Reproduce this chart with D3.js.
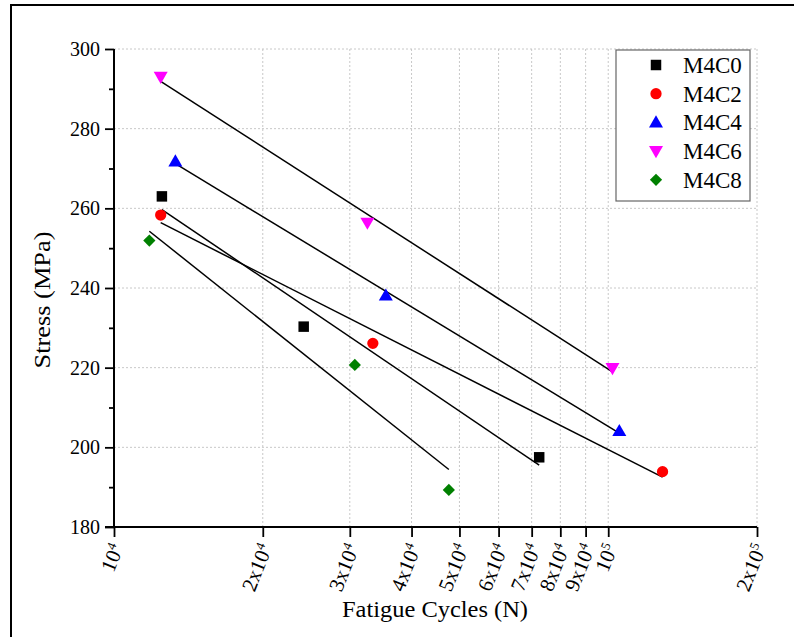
<!DOCTYPE html>
<html>
<head>
<meta charset="utf-8">
<script src="https://cdn.jsdelivr.net/npm/d3@7"></script>
<style>
  html, body { margin: 0; padding: 0; background: #fff; }
  svg { display: block; }
  svg text { font-family: "Liberation Serif", "DejaVu Serif", serif !important; }
</style>
</head>
<body>
<svg id="chart" width="794" height="637"></svg>
<script>
// ---- data ----
const seriesNames = ["M4C0", "M4C2", "M4C4", "M4C6", "M4C8"];
const cyclesM4C0 = [12500, 24200, 72500];
const stressM4C0 = [263.0, 230.3, 197.5];
const cyclesM4C2 = [12430, 33400, 128800];
const stressM4C2 = [258.3, 226.1, 193.9];
const cyclesM4C4 = [13310, 35480, 105300];
const stressM4C4 = [271.8, 238.1, 204.1];
const cyclesM4C6 = [12430, 32560, 102000];
const stressM4C6 = [293.0, 256.4, 219.9];
const cyclesM4C8 = [11790, 30710, 47590];
const stressM4C8 = [251.9, 220.7, 189.3];
const seriesColors = ["#000000", "#ff0000", "#0000ff", "#ff00ff", "#008000"];
const seriesSymbols = ["square", "circle", "triangleUp", "triangleDown", "diamond"];
const xTickValues = [1e4, 2e4, 3e4, 4e4, 5e4, 6e4, 7e4, 8e4, 9e4, 1e5, 2e5];
const yTickValues = [180, 200, 220, 240, 260, 280, 300];
const yMinorTicks = [190, 210, 230, 250, 270, 290];

const cyclesAll = [cyclesM4C0, cyclesM4C2, cyclesM4C4, cyclesM4C6, cyclesM4C8];
const stressAll = [stressM4C0, stressM4C2, stressM4C4, stressM4C6, stressM4C8];

const FONT = "Liberation Serif, DejaVu Serif, serif";
const svg = d3.select("#chart");
const L = 114, R = 757, T = 49, B = 527;

const x = d3.scaleLog().domain([1e4, 2e5]).range([L, R]);
const y = d3.scaleLinear().domain([180, 300]).range([B, T]);

// outer frame
svg.append("rect").attr("x", 11).attr("y", 5).attr("width", 800).attr("height", 700)
  .attr("fill", "none").attr("stroke", "#000").attr("stroke-width", 2);

// grid
const grid = svg.append("g");
grid.selectAll("line.vg").data(xTickValues.slice(1)).join("line")
  .attr("x1", d => x(d)).attr("x2", d => x(d)).attr("y1", T).attr("y2", B)
  .attr("stroke", "#c8c8c8").attr("stroke-width", 1).attr("stroke-dasharray", "2,2");
grid.selectAll("line.hg").data(yTickValues.slice(1)).join("line")
  .attr("x1", L).attr("x2", R).attr("y1", d => y(d)).attr("y2", d => y(d))
  .attr("stroke", "#c8c8c8").attr("stroke-width", 1).attr("stroke-dasharray", "2,2");

// y axis
const yAxis = svg.append("g").attr("transform", `translate(${L},0)`)
  .call(d3.axisLeft(y).tickValues(yTickValues).tickSize(9).tickPadding(5).tickFormat(d3.format("d")));
yAxis.attr("font-family", FONT);
yAxis.select(".domain").attr("stroke-width", 2).attr("d", `M0,${B}V${T}`);
yAxis.selectAll(".tick line").attr("stroke-width", 1.8);
yAxis.selectAll(".tick text").attr("font-size", 20).attr("font-family", FONT).attr("fill", "#000");
const yMinor = svg.append("g").attr("transform", `translate(${L},0)`)
  .call(d3.axisLeft(y).tickValues(yMinorTicks).tickSize(5).tickFormat(""));
yMinor.select(".domain").remove();
yMinor.selectAll(".tick line").attr("stroke-width", 1.8);

// x axis
const xAxis = svg.append("g").attr("transform", `translate(0,${B})`)
  .call(d3.axisBottom(x).tickValues(xTickValues).tickSize(10).tickFormat(""));
xAxis.select(".domain").attr("stroke-width", 2).attr("d", `M${L - 9},0H${R}`);
xAxis.selectAll(".tick line").attr("stroke-width", 1.8);

// rotated x tick labels with superscript exponent
const xl = svg.append("g").attr("font-family", FONT);
xTickValues.forEach(v => {
  const e = Math.floor(Math.log10(v) + 1e-9);
  const m = Math.round(v / Math.pow(10, e));
  const t = xl.append("text")
    .attr("transform", `translate(${x(v) + 3},${B + 18}) rotate(-68)`)
    .attr("text-anchor", "end").attr("dy", "0.35em")
    .attr("font-size", 21).attr("fill", "#000");
  t.append("tspan").text((m === 1 ? "" : m + "x") + "10");
  t.append("tspan").attr("dy", "-0.6em").attr("font-size", 13).text(String(e));
});

// axis titles
svg.append("text").attr("x", 435).attr("y", 617).attr("text-anchor", "middle")
  .attr("font-family", FONT).attr("font-size", 24).attr("fill", "#000")
  .attr("textLength", 186).attr("lengthAdjust", "spacingAndGlyphs").text("Fatigue Cycles (N)");
svg.append("text").attr("transform", `translate(50,300) rotate(-90)`)
  .attr("font-family", FONT).attr("text-anchor", "middle").attr("font-size", 24).attr("fill", "#000")
  .attr("textLength", 137).attr("lengthAdjust", "spacingAndGlyphs").text("Stress (MPa)");

// fit lines: least squares stress vs log10(N), drawn from min to max N
const fitG = svg.append("g");
cyclesAll.forEach((cs, i) => {
  const ss = stressAll[i];
  const lx = cs.map(c => Math.log10(c));
  const mx = d3.mean(lx), my = d3.mean(ss);
  const sxy = d3.sum(lx, (v, k) => (v - mx) * (ss[k] - my));
  const sxx = d3.sum(lx, v => (v - mx) * (v - mx));
  const b = sxy / sxx, a = my - b * mx;
  const n0 = d3.min(cs), n1 = d3.max(cs);
  fitG.append("line")
    .attr("x1", x(n0)).attr("y1", y(a + b * Math.log10(n0)))
    .attr("x2", x(n1)).attr("y2", y(a + b * Math.log10(n1)))
    .attr("stroke", "#000").attr("stroke-width", 1.5);
});

// symbols
const symMap = {
  square: d3.symbolSquare, circle: d3.symbolCircle, triangleUp: d3.symbolTriangle,
  triangleDown: d3.symbolTriangle, diamond: d3.symbolSquare
};
const symSize = { square: 110, circle: 100, triangleUp: 85, triangleDown: 85, diamond: 75 };
function symbolPath(kind) { return d3.symbol().type(symMap[kind]).size(symSize[kind])(); }
function symbolTransform(kind, px, py) {
  if (kind === "triangleUp") return `translate(${px},${py + 1})`;
  if (kind === "triangleDown") return `translate(${px},${py - 1}) rotate(180)`;
  if (kind === "diamond") return `translate(${px},${py}) rotate(45)`;
  return `translate(${px},${py})`;
}
const ptsG = svg.append("g");
cyclesAll.forEach((cs, i) => {
  const kind = seriesSymbols[i];
  ptsG.selectAll(null).data(cs.map((c, k) => [c, stressAll[i][k]])).join("path")
    .attr("d", symbolPath(kind))
    .attr("transform", d => symbolTransform(kind, x(d[0]), y(d[1])))
    .attr("fill", seriesColors[i]);
});

// legend
const lg = svg.append("g").attr("font-family", FONT);
lg.append("rect").attr("x", 616).attr("y", 50).attr("width", 134).attr("height", 151)
  .attr("fill", "#fff").attr("stroke", "#666").attr("stroke-width", 1.2);
seriesNames.forEach((name, i) => {
  const ly = 65 + i * 28.7;
  lg.append("path").attr("d", symbolPath(seriesSymbols[i]))
    .attr("transform", symbolTransform(seriesSymbols[i], 656, ly))
    .attr("fill", seriesColors[i]);
  lg.append("text").attr("x", 683).attr("y", ly).attr("dy", "0.35em")
    .attr("font-size", 23).attr("fill", "#000").text(name);
});
</script>
</body>
</html>
